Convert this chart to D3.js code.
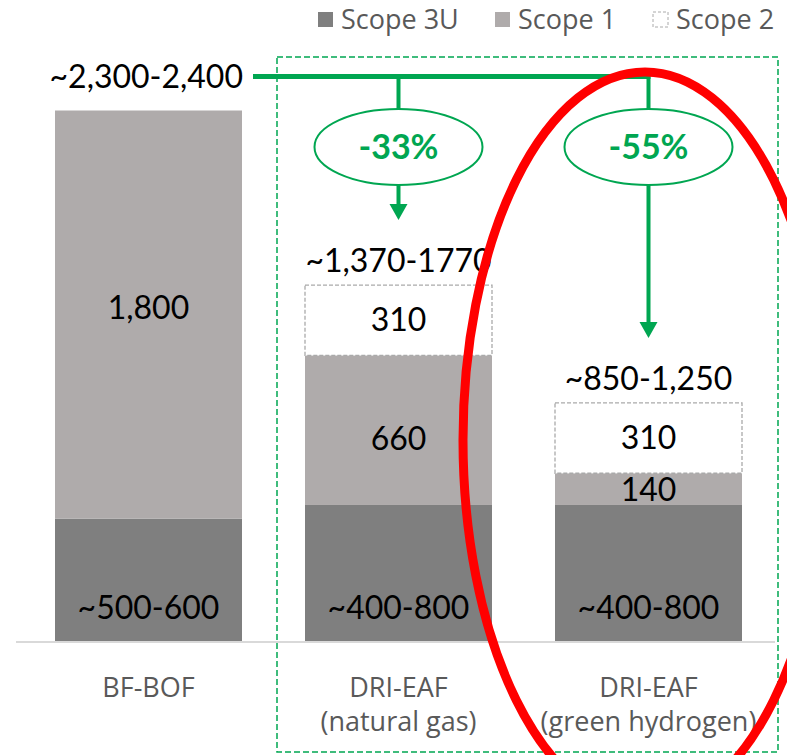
<!DOCTYPE html>
<html>
<head>
<meta charset="utf-8">
<script src="https://cdn.jsdelivr.net/npm/d3@7"></script>
<style>
  body { margin: 0; background: #fff; }
  text { font-family: Lato, "Open Sans", sans-serif; }
  .gray { font-family: "Open Sans", Lato, sans-serif; }
</style>
</head>
<body>
<script>
const categories = ['BF-BOF', 'DRI-EAF (natural gas)', 'DRI-EAF (green hydrogen)']
const catLines = [['BF-BOF'], ['DRI-EAF', '(natural gas)'], ['DRI-EAF', '(green hydrogen)']]
const scope3u = [540, 600, 600]
const scope1 = [1800, 660, 140]
const scope2 = [0, 310, 310]
const scope3uLabels = ['~500-600', '~400-800', '~400-800']
const scope1Labels = ['1,800', '660', '140']
const scope2Labels = ['', '310', '310']
const totalLabels = ['~2,300-2,400', '~1,370-1770', '~850-1,250']
const reductions = [null, '-33%', '-55%']
const legendKeys = ['Scope 3U', 'Scope 1', 'Scope 2']

const width = 787
const height = 755
const green = '#00a651'
const colors = {s3u: '#7f7f7f', s1: '#afabab', s2: '#ffffff'}
// small vertical nudges for the Scope 1 labels, as placed in the original
const s1Nudge = [-7, 9, 1]

const svg = d3.select('body').append('svg').attr('width', width).attr('height', height)

const rows = categories.map((c, i) => ({cat: c, s3u: scope3u[i], s1: scope1[i], s2: scope2[i]}))
const stack = d3.stack().keys(['s3u', 's1', 's2'])(rows)

const x = d3.scaleBand().domain(categories).range([23.5, 773.5]).paddingInner(0.252).paddingOuter(0.126)
const y = d3.scaleLinear().domain([0, 2576]).range([641, 57])

// baseline
svg.append('line').attr('x1', 16).attr('x2', 775).attr('y1', y(0) + 1).attr('y2', y(0) + 1)
  .attr('stroke', '#d9d9d9').attr('stroke-width', 2)

// bars
stack.forEach(layer => {
  svg.append('g').selectAll('rect')
    .data(layer.filter(d => d[1] > d[0]))
    .enter().append('rect')
      .attr('x', d => x(d.data.cat))
      .attr('y', d => y(d[1]))
      .attr('width', x.bandwidth())
      .attr('height', d => y(d[0]) - y(d[1]))
      .attr('fill', colors[layer.key])
      .attr('stroke', layer.key === 's2' ? '#aaaaaa' : 'none')
      .attr('stroke-width', 1.3)
      .attr('stroke-dasharray', layer.key === 's2' ? '4,2' : null)
})

// segment labels
const labelG = svg.append('g').attr('font-size', 32).attr('fill', '#000').attr('text-anchor', 'middle')
categories.forEach((c, i) => {
  const cx = x(c) + x.bandwidth() / 2
  labelG.append('text').attr('x', cx).attr('y', y(0) - 33).attr('dy', '0.35em').text(scope3uLabels[i])
  labelG.append('text').attr('x', cx).attr('y', y(scope3u[i] + scope1[i] / 2) + s1Nudge[i]).attr('dy', '0.35em').text(scope1Labels[i])
  if (scope2[i] > 0) {
    const base = scope3u[i] + scope1[i]
    labelG.append('text').attr('x', cx).attr('y', y(base + scope2[i] / 2)).attr('dy', '0.35em').text(scope2Labels[i])
  }
})

// totals
const lineY = y(scope3u[0] + scope1[0]) - 34
categories.forEach((c, i) => {
  const top = scope3u[i] + scope1[i] + scope2[i]
  if (i === 0) {
    labelG.append('text').attr('x', x(c) + x.bandwidth() + 1).attr('y', lineY).attr('dy', '0.35em')
      .attr('text-anchor', 'end').text(totalLabels[i])
  } else {
    labelG.append('text').attr('x', x(c) + x.bandwidth() / 2).attr('y', y(top) - 24).attr('dy', '0.35em').text(totalLabels[i])
  }
})

// category labels
categories.forEach((c, i) => {
  const t = svg.append('text').attr('class', 'gray').attr('x', x(c) + x.bandwidth() / 2).attr('y', 697)
    .attr('text-anchor', 'middle').attr('font-size', 27).attr('fill', '#595959')
  catLines[i].forEach((l, j) => {
    t.append('tspan').attr('x', x(c) + x.bandwidth() / 2).attr('dy', j === 0 ? 0 : 34).text(l)
  })
})

// green dashed box around DRI bars
svg.append('rect').attr('x', 277).attr('y', 57).attr('width', 501).attr('height', 695)
  .attr('fill', 'none').attr('stroke', green).attr('stroke-width', 1.5).attr('stroke-dasharray', '6,3')

// reduction arrows
const c2 = x(categories[2]) + x.bandwidth() / 2
svg.append('line').attr('x1', 253).attr('x2', c2 + 2).attr('y1', lineY).attr('y2', lineY)
  .attr('stroke', green).attr('stroke-width', 5)
categories.forEach((c, i) => {
  if (!reductions[i]) return
  const cx = x(c) + x.bandwidth() / 2
  const top = scope3u[i] + scope1[i] + scope2[i]
  const ey = 147
  const tip = y(top) - 65
  svg.append('line').attr('x1', cx).attr('x2', cx).attr('y1', lineY).attr('y2', ey - 38)
    .attr('stroke', green).attr('stroke-width', 4)
  svg.append('line').attr('x1', cx).attr('x2', cx).attr('y1', ey + 38).attr('y2', tip - 14)
    .attr('stroke', green).attr('stroke-width', 4)
  svg.append('path').attr('d', `M${cx - 9},${tip - 16}L${cx + 9},${tip - 16}L${cx},${tip}Z`).attr('fill', green)
  svg.append('ellipse').attr('cx', cx).attr('cy', ey).attr('rx', 84).attr('ry', 38)
    .attr('fill', '#fff').attr('stroke', green).attr('stroke-width', 2)
  svg.append('text').attr('x', cx).attr('y', ey).attr('dy', '0.35em').attr('text-anchor', 'middle')
    .attr('font-size', 34).attr('font-weight', 'bold').attr('fill', green).text(reductions[i])
})

// red highlight ellipse
svg.append('ellipse').attr('cx', 645).attr('cy', 440).attr('rx', 182).attr('ry', 368)
  .attr('fill', 'none').attr('stroke', '#ff0000').attr('stroke-width', 9)

// legend
const legendX = [318, 495, 653]
const legend = svg.append('g')
legendKeys.forEach((k, i) => {
  const key = ['s3u', 's1', 's2'][i]
  legend.append('rect').attr('x', legendX[i]).attr('y', 12).attr('width', 15).attr('height', 15)
    .attr('fill', colors[key])
    .attr('stroke', key === 's2' ? '#aaaaaa' : 'none').attr('stroke-dasharray', key === 's2' ? '3,2' : null)
  legend.append('text').attr('class', 'gray').attr('x', legendX[i] + 23).attr('y', 20).attr('dy', '0.35em')
    .attr('font-size', 27).attr('fill', '#595959').text(k)
})
</script>
</body>
</html>
